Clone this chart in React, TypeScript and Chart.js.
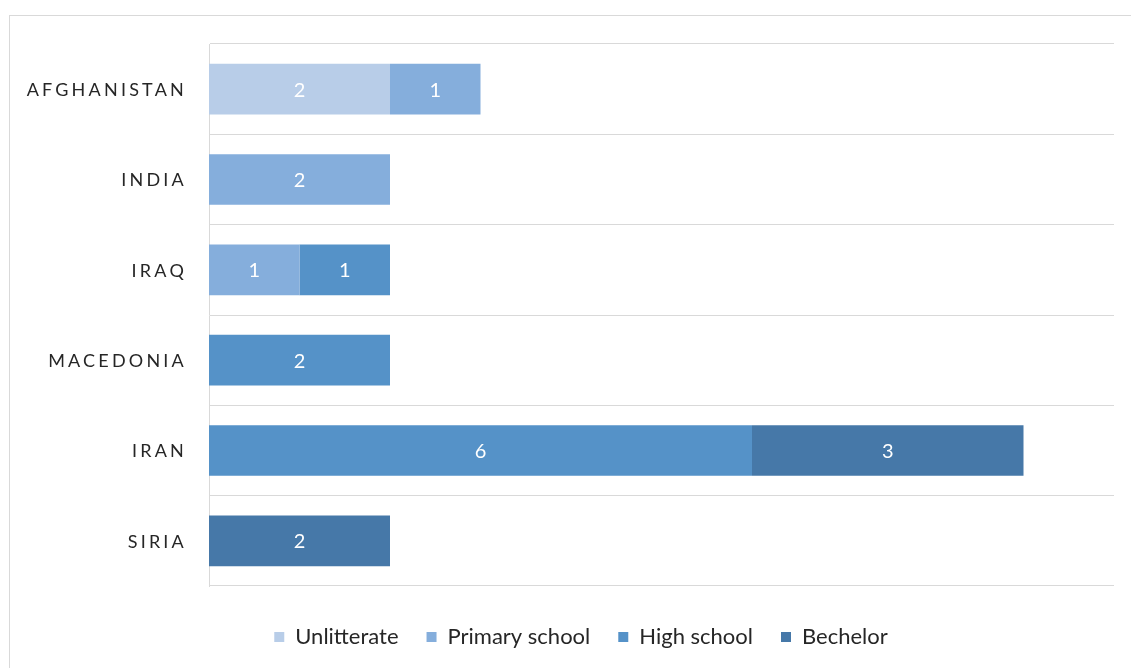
import React, { useEffect, useRef } from "react";
import { Chart, registerables } from "chart.js";

Chart.register(...registerables);

const categories = ["AFGHANISTAN", "INDIA", "IRAQ", "MACEDONIA", "IRAN", "SIRIA"];
const seriesNames = ["Unlitterate", "Primary school", "High school", "Bechelor"];
const unlitterate = [2, null, null, null, null, null];
const primarySchool = [1, 2, 1, null, null, null];
const highSchool = [null, null, 1, 2, 6, null];
const bechelor = [null, null, null, null, 3, 2];
const seriesColors = ["#B8CDE8", "#85AEDC", "#5592C8", "#4678A8"];
const xMax = 10;

const FONT = "Lato";

const labelsPlugin = {
  id: "customLabels",
  beforeDraw(chart: any) {
    const ctx = chart.ctx;
    ctx.save();
    ctx.strokeStyle = "#D9D9D9";
    ctx.lineWidth = 1;
    ctx.strokeRect(9.5, 15.5, 1300, 800);
    ctx.restore();
  },
  afterDatasetsDraw(chart: any) {
    const ctx = chart.ctx;
    ctx.save();
    ctx.font = `20px ${FONT}`;
    ctx.fillStyle = "#FFFFFF";
    ctx.textAlign = "center";
    ctx.textBaseline = "middle";
    chart.data.datasets.forEach((ds: any, di: number) => {
      const meta = chart.getDatasetMeta(di);
      meta.data.forEach((el: any, i: number) => {
        const v = ds.data[i];
        if (v === null || v === undefined) return;
        ctx.fillText(String(v), (el.x + el.base) / 2, el.y + 1);
      });
    });
    // category labels with letter spacing
    const yScale = chart.scales.y;
    ctx.font = `18px ${FONT}`;
    ctx.fillStyle = "#262626";
    ctx.textAlign = "right";
    (ctx as any).letterSpacing = "3.2px";
    categories.forEach((c, i) => {
      ctx.fillText(c, 187, yScale.getPixelForValue(i) + 1);
    });
    ctx.restore();
  },
};

export default function App() {
  const ref = useRef<HTMLCanvasElement>(null);
  useEffect(() => {
    if (!ref.current) return;
    const chart = new Chart(ref.current, {
      type: "bar",
      data: {
        labels: categories,
        datasets: [unlitterate, primarySchool, highSchool, bechelor].map((d, i) => ({
          label: seriesNames[i],
          data: d,
          backgroundColor: seriesColors[i],
          borderWidth: 0,
          barPercentage: 0.56,
          categoryPercentage: 1,
        })),
      },
      options: {
        indexAxis: "y",
        animation: false,
        responsive: false,
        layout: { padding: { left: 48, top: 44, right: 17, bottom: 10 } },
        plugins: {
          tooltip: { enabled: false },
          legend: {
            position: "bottom",
            labels: {
              boxWidth: 10,
              boxHeight: 10,
              padding: 28,
              color: "#262626",
              font: { family: FONT, size: 22 },
            },
          },
        },
        scales: {
          x: {
            stacked: true,
            min: 0,
            max: xMax,
            ticks: { display: false },
            grid: { display: false, drawTicks: false },
            border: { display: false },
            afterFit: (s: any) => { s.height = 12; },
          },
          y: {
            stacked: true,
            ticks: { display: false },
            grid: { display: true, offset: true, color: "#D9D9D9", lineWidth: 1, drawTicks: false },
            border: { display: true, color: "#D9D9D9", width: 1 },
            afterFit: (s: any) => { s.width = 161; },
          },
        },
      },
      plugins: [labelsPlugin],
    } as any);
    return () => chart.destroy();
  }, []);
  return (
    <div style={{ position: "fixed", left: 0, top: 0, width: 1131, height: 668, background: "#fff" }}>
      <canvas ref={ref} width={1131} height={668} />
    </div>
  );
}
